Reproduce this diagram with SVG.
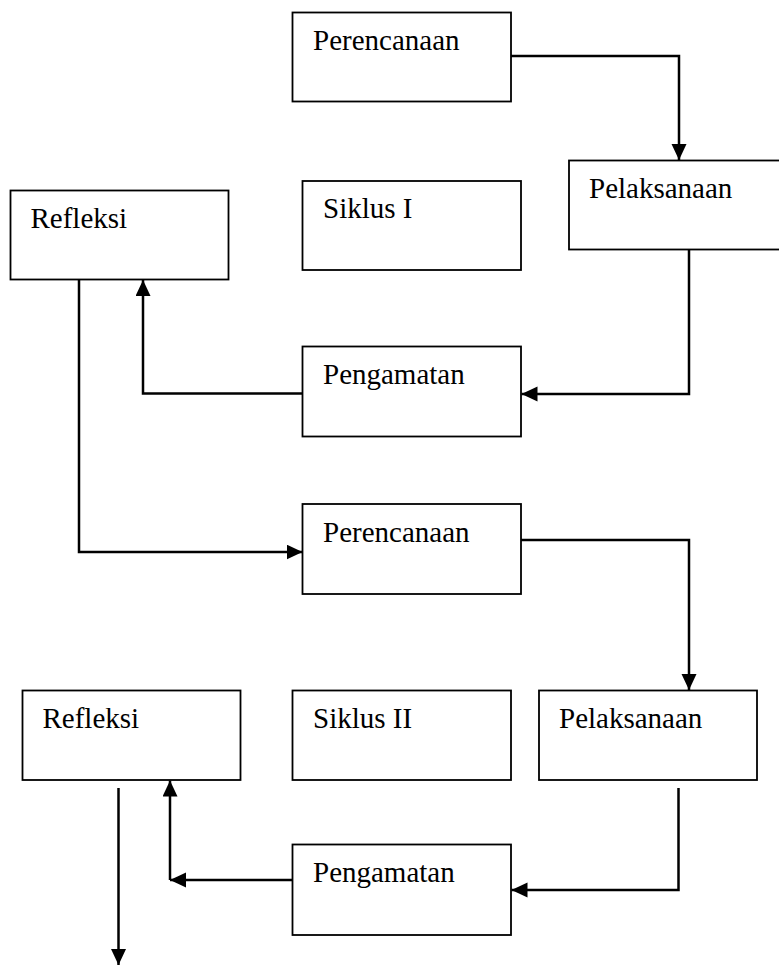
<svg xmlns="http://www.w3.org/2000/svg" width="779" height="965" viewBox="0 0 779 965">
  <style>
    .box { fill: #ffffff; stroke: #000000; stroke-width: 1.8; }
    .lbl { font-family: "Liberation Serif", "Times New Roman", serif; font-size: 29px; fill: #000000; }
    .con { fill: none; stroke: #000000; stroke-width: 2.5; }
  </style>
  <defs>
    <marker id="arrow" markerUnits="userSpaceOnUse" markerWidth="18" markerHeight="16" refX="16" refY="7.5" orient="auto">
      <path d="M0,0 L16,7.5 L0,15 Z" fill="#000000"/>
    </marker>
  </defs>
  <rect width="779" height="965" fill="#ffffff"/>

  <g id="perencanaan1">
    <rect class="box" x="292.5" y="12.5" width="218.5" height="89"/>
    <text class="lbl" x="313" y="50">Perencanaan</text>
  </g>
  <g id="pelaksanaan1">
    <rect class="box" x="569" y="160.5" width="218.5" height="89"/>
    <text class="lbl" x="589" y="198">Pelaksanaan</text>
  </g>
  <g id="siklus1">
    <rect class="box" x="302.5" y="181" width="218.5" height="89"/>
    <text class="lbl" x="323" y="218">Siklus I</text>
  </g>
  <g id="refleksi1">
    <rect class="box" x="10.5" y="190.5" width="218" height="89"/>
    <text class="lbl" x="30.5" y="228">Refleksi</text>
  </g>
  <g id="pengamatan1">
    <rect class="box" x="302.5" y="346.5" width="218.5" height="90"/>
    <text class="lbl" x="323" y="384">Pengamatan</text>
  </g>
  <g id="perencanaan2">
    <rect class="box" x="302.5" y="504" width="218.5" height="90"/>
    <text class="lbl" x="323" y="542">Perencanaan</text>
  </g>
  <g id="refleksi2">
    <rect class="box" x="22.5" y="690.5" width="218" height="89.5"/>
    <text class="lbl" x="42.5" y="728">Refleksi</text>
  </g>
  <g id="siklus2">
    <rect class="box" x="292.5" y="690.5" width="218.5" height="89.5"/>
    <text class="lbl" x="313" y="728">Siklus II</text>
  </g>
  <g id="pelaksanaan2">
    <rect class="box" x="539" y="690.5" width="218" height="89.5"/>
    <text class="lbl" x="559" y="728">Pelaksanaan</text>
  </g>
  <g id="pengamatan2">
    <rect class="box" x="292.5" y="844.5" width="218.5" height="90.5"/>
    <text class="lbl" x="313" y="882">Pengamatan</text>
  </g>

  <g id="connectors">
    <path class="con" d="M511,56 H679 V160" marker-end="url(#arrow)"/>
    <path class="con" d="M689,250 V394 H521.5" marker-end="url(#arrow)"/>
    <path class="con" d="M302.5,393.5 H143 V280" marker-end="url(#arrow)"/>
    <path class="con" d="M79,280 V552 H302.5" marker-end="url(#arrow)"/>
    <path class="con" d="M521,540 H689 V690" marker-end="url(#arrow)"/>
    <path class="con" d="M678.5,788 V890 H511.5" marker-end="url(#arrow)"/>
    <path class="con" d="M292.5,880 H170" marker-end="url(#arrow)"/>
    <path class="con" d="M170,880 V780.5" marker-end="url(#arrow)"/>
    <path class="con" d="M118.5,788 V965" marker-end="url(#arrow)"/>
  </g>
</svg>
